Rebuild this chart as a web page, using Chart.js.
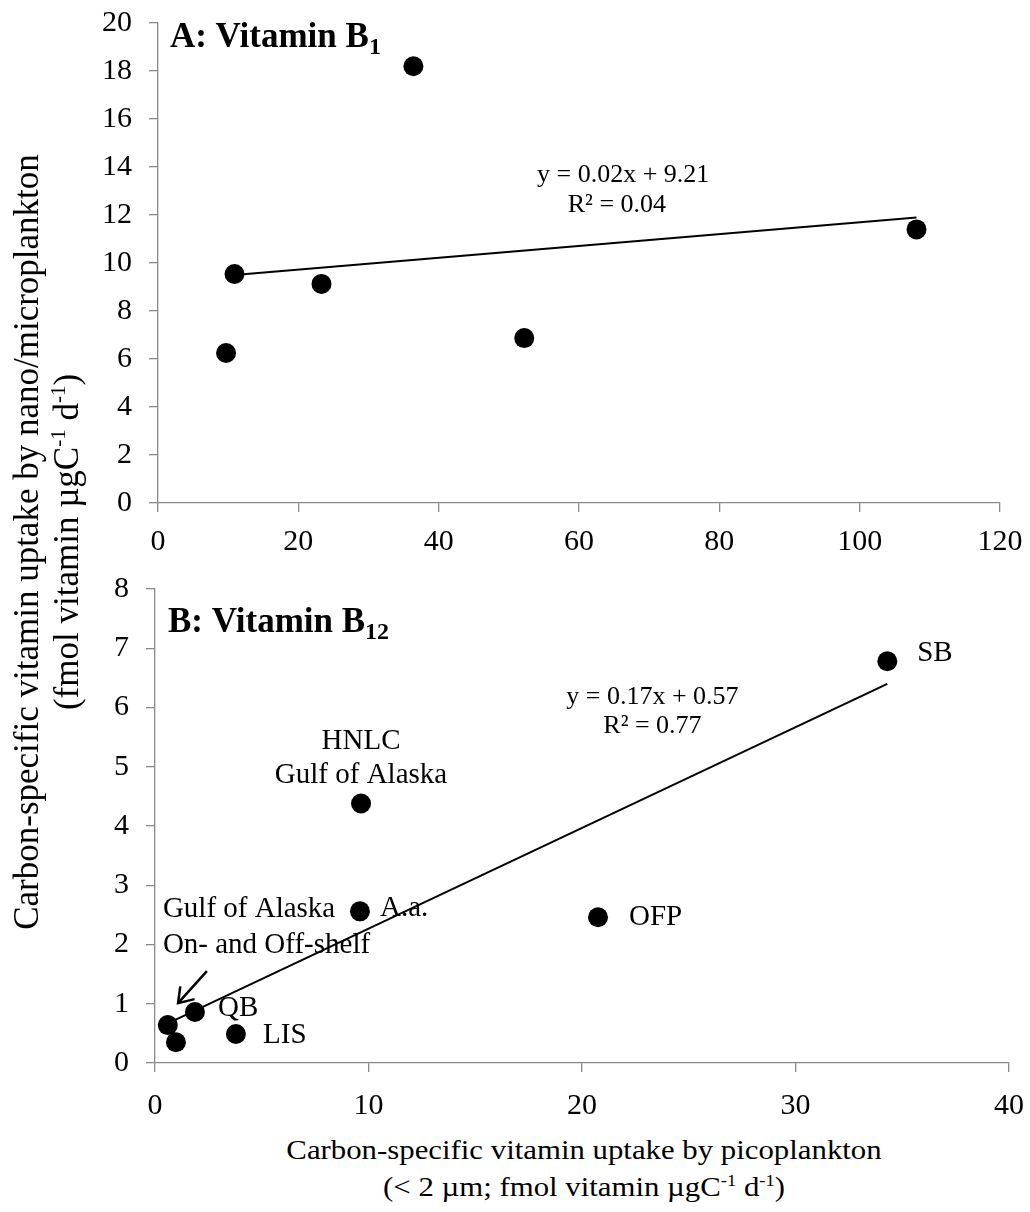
<!DOCTYPE html>
<html>
<head>
<meta charset="utf-8">
<script src="https://cdn.jsdelivr.net/npm/chart.js@4.4.0/dist/chart.umd.min.js"></script>
<style>
    body { margin: 0; background: #fff; font-family: "Liberation Serif", "Times New Roman", serif; color: #000; }
    #wrap { position: relative; width: 1030px; height: 1212px; overflow: hidden; }
    #boxA { position: absolute; left: 0; top: 0; }
    #boxB { position: absolute; left: 0; top: 560px; }
    .tituloY {
        position: absolute; left: 47px; top: 542px; width: 1000px;
        transform: translate(-50%, -50%) rotate(-90deg);
        text-align: center; font-size: 35px; line-height: 40px; white-space: nowrap;
    }
    .tituloX {
        position: absolute; left: 584px; top: 1168px; width: 900px;
        transform: translate(-50%, -50%) scaleX(1.1);
        text-align: center; font-size: 28px; line-height: 37px; white-space: nowrap;
    }
    sup { font-size: 60%; vertical-align: 0.6em; line-height: 0; }
</style>
</head>
<body>
<div id="wrap">
    <div id="boxA"><canvas id="chartA" width="1030" height="560"></canvas></div>
    <div id="boxB"><canvas id="chartB" width="1030" height="565"></canvas></div>
    <div class="tituloY">Carbon-specific vitamin uptake by nano/microplankton<br>(fmol vitamin µgC<sup>-1</sup> d<sup>-1</sup>)</div>
    <div class="tituloX">Carbon-specific vitamin uptake by picoplankton<br>(&lt; 2 µm; fmol vitamin µgC<sup>-1</sup> d<sup>-1</sup>)</div>
</div>

<script>
// ===================== DADOS =====================
// Painel A: vitamina B1
const b1X = [9.7, 10.9, 23.3, 36.4, 52.2, 108.1];
const b1Y = [6.25, 9.54, 9.13, 18.2, 6.87, 11.4];
const b1TrendX = [10.9, 108.1];
const b1TrendY = [9.5, 11.9];
const b1XTicks = [0, 20, 40, 60, 80, 100, 120];
const b1YTicks = [0, 2, 4, 6, 8, 10, 12, 14, 16, 18, 20];

// Painel B: vitamina B12
const b12X = [0.6, 0.98, 1.87, 3.79, 9.6, 9.65, 20.75, 34.3];
const b12Y = [0.64, 0.35, 0.86, 0.49, 2.56, 4.38, 2.46, 6.78];
const b12TrendX = [0.6, 34.3];
const b12TrendY = [0.67, 6.4];
const b12XTicks = [0, 10, 20, 30, 40];
const b12YTicks = [0, 1, 2, 3, 4, 5, 6, 7, 8];

// textos dentro dos painéis (posição em unidades dos dados)
const textosA = [
    { txt: "y = 0.02x + 9.21", x: 66.3, y: 13.67, tam: 26, align: "center" },
    { txt: "R² = 0.04",        x: 65.4, y: 12.42, tam: 26, align: "center" },
];
const textosB = [
    { txt: "HNLC",              x: 9.65, y: 5.43, tam: 29, align: "center" },
    { txt: "Gulf of Alaska",    x: 9.65, y: 4.86, tam: 29, align: "center" },
    { txt: "A.a.",              x: 10.54, y: 2.61, tam: 29, align: "left" },
    { txt: "Gulf of Alaska",    x: 0.37, y: 2.6,  tam: 29, align: "left" },
    { txt: "On- and Off-shelf", x: 0.37, y: 1.99, tam: 29, align: "left" },
    { txt: "QB",                x: 2.95, y: 0.93, tam: 29, align: "left" },
    { txt: "LIS",               x: 5.06, y: 0.46, tam: 29, align: "left" },
    { txt: "OFP",               x: 22.2, y: 2.45, tam: 29, align: "left" },
    { txt: "SB",                x: 35.7, y: 6.91, tam: 29, align: "left" },
    { txt: "y = 0.17x + 0.57",  x: 23.3, y: 6.17, tam: 26, align: "center" },
    { txt: "R² = 0.77",         x: 23.3, y: 5.68, tam: 26, align: "center" },
];
const seta = { de: [2.43, 1.55], para: [1.08, 1.01] };

// ===================== CORES / FONTES =====================
const COR_EIXO  = "#898989";
const COR_PONTO = "#000";
const FONTE     = "Liberation Serif, serif";

Chart.defaults.font.family = FONTE;
Chart.defaults.color = "#000";

// ===================== PLUGIN DE TEXTOS =====================
const pluginTextos = {
    id: "textos",
    afterDatasetsDraw(chart, args, opts) {
        const { ctx } = chart;
        const sx = chart.scales.x, sy = chart.scales.y;
        ctx.save();
        ctx.fillStyle = "#000";

        // título do painel com subscrito
        const p = opts.painel;
        if (p) {
            const px = sx.getPixelForValue(p.x);
            const py = sy.getPixelForValue(p.y);
            ctx.textAlign = "left";
            ctx.textBaseline = "alphabetic";
            ctx.font = `bold 35px ${FONTE}`;
            ctx.fillText(p.txt, px, py);
            const w = ctx.measureText(p.txt).width;
            ctx.font = `bold 24px ${FONTE}`;
            ctx.fillText(p.sub, px + w, py + 7);
        }

        ctx.textBaseline = "middle";
        (opts.textos || []).forEach(t => {
            ctx.font = `${t.tam}px ${FONTE}`;
            ctx.textAlign = t.align;
            ctx.fillText(t.txt, sx.getPixelForValue(t.x), sy.getPixelForValue(t.y));
        });

        // seta
        const s = opts.seta;
        if (s) {
            const x0 = sx.getPixelForValue(s.de[0]),   y0 = sy.getPixelForValue(s.de[1]);
            const x1 = sx.getPixelForValue(s.para[0]), y1 = sy.getPixelForValue(s.para[1]);
            const ang = Math.atan2(y1 - y0, x1 - x0);
            ctx.strokeStyle = "#000";
            ctx.lineWidth = 2.5;
            ctx.beginPath();
            ctx.moveTo(x0, y0);
            ctx.lineTo(x1, y1);
            ctx.stroke();
            ctx.beginPath();
            ctx.moveTo(x1 - 17 * Math.cos(ang - 0.6), y1 - 17 * Math.sin(ang - 0.6));
            ctx.lineTo(x1, y1);
            ctx.lineTo(x1 - 17 * Math.cos(ang + 0.6), y1 - 17 * Math.sin(ang + 0.6));
            ctx.stroke();
        }
        ctx.restore();
    }
};

// ===================== HELPERS =====================
function pares(xs, ys) {
    return xs.map((v, i) => ({ x: v, y: ys[i] }));
}

function eixo(min, max, ticks, padding, afterFit) {
    return {
        type: "linear",
        min, max,
        afterBuildTicks: ax => { ax.ticks = ticks.map(v => ({ value: v })); },
        afterFit,
        grid: { drawOnChartArea: false, drawTicks: true, tickLength: 9, color: COR_EIXO, lineWidth: 1.3 },
        border: { display: true, color: COR_EIXO, width: 1.3 },
        ticks: {
            color: "#000",
            padding,
            font: { family: "Times New Roman, Liberation Serif, serif", size: 30, style: "normal", weight: "normal" },
        },
    };
}

function montarChart(id, cfg) {
    return new Chart(document.getElementById(id), {
        type: "scatter",
        data: {
            datasets: [
                {
                    data: pares(cfg.xs, cfg.ys),
                    pointRadius: 10,
                    pointHoverRadius: 10,
                    backgroundColor: COR_PONTO,
                    borderWidth: 0,
                    showLine: false,
                },
                {
                    data: pares(cfg.trendX, cfg.trendY),
                    showLine: true,
                    pointRadius: 0,
                    borderColor: "#000",
                    borderWidth: 2,
                },
            ],
        },
        options: {
            responsive: false,
            animation: false,
            devicePixelRatio: 1,
            font: { family: FONTE },
            layout: { padding: cfg.padding },
            plugins: {
                legend: { display: false },
                tooltip: { enabled: false },
                textos: { painel: cfg.painel, textos: cfg.textos, seta: cfg.seta },
            },
            scales: {
                // paddings dos rótulos zerados: a área do gráfico fica só com o layout.padding
                x: eixo(cfg.xMin, cfg.xMax, cfg.xTicks, cfg.padX, ax => {
                    ax.height = cfg.alturaX;
                    ax.paddingLeft = 0;
                    ax.paddingRight = 0;
                }),
                y: eixo(cfg.yMin, cfg.yMax, cfg.yTicks, 17, ax => {
                    ax.width = cfg.larguraY;
                    ax.paddingTop = 0;
                    ax.paddingBottom = 0;
                }),
            },
        },
        plugins: [pluginTextos],
    });
}

// ===================== GRÁFICOS =====================
montarChart("chartA", {
    xs: b1X, ys: b1Y, trendX: b1TrendX, trendY: b1TrendY,
    xMin: 0, xMax: 120, xTicks: b1XTicks,
    yMin: 0, yMax: 20, yTicks: b1YTicks,
    padding: { top: 23, right: 30, left: 0, bottom: 0 },
    alturaX: 57, larguraY: 158, padX: 12,
    painel: { txt: "A: Vitamin B", sub: "1", x: 1.7, y: 19.0 },
    textos: textosA,
});

montarChart("chartB", {
    xs: b12X, ys: b12Y, trendX: b12TrendX, trendY: b12TrendY,
    xMin: 0, xMax: 40, xTicks: b12XTicks,
    yMin: 0, yMax: 8, yTicks: b12YTicks,
    padding: { top: 29, right: 21, left: 0, bottom: 0 },
    alturaX: 62, larguraY: 155, padX: 16,
    painel: { txt: "B: Vitamin B", sub: "12", x: 0.61, y: 7.27 },
    textos: textosB,
    seta,
});
</script>
</body>
</html>
